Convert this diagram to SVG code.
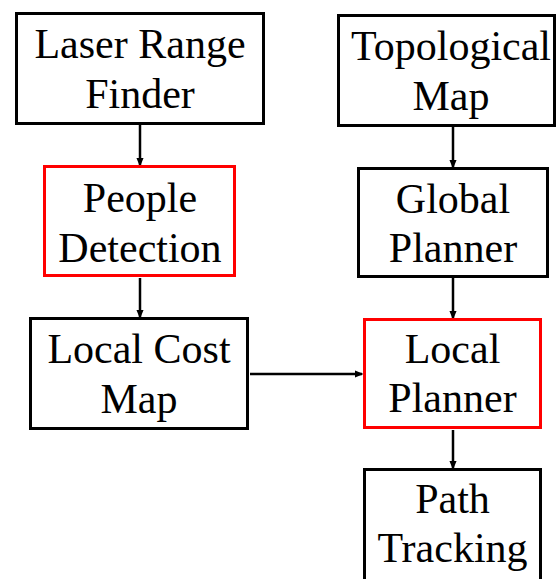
<svg xmlns="http://www.w3.org/2000/svg" width="557" height="579" viewBox="0 0 557 579">
<style>
.box{fill:#fff;stroke:#000;stroke-width:3}
.red{fill:#fff;stroke:#ff0000;stroke-width:3}
text{font-family:'Liberation Serif','DejaVu Serif',serif;font-size:42px;fill:#000;text-anchor:middle}
.conn{stroke:#000;stroke-width:2.5;fill:none}
</style>
<defs>
<marker id="ah" markerWidth="9" markerHeight="11" refX="9" refY="4.5" orient="auto" markerUnits="userSpaceOnUse" viewBox="0 0 11 9">
<path d="M0,0 L11,4.5 L0,9 Z" fill="#000"/>
</marker>
</defs>
<rect width="557" height="579" fill="#fff"/>
<g id="connectors">
<line class="conn" x1="140" y1="125" x2="140" y2="165" marker-end="url(#ah)"/>
<line class="conn" x1="140" y1="278" x2="140" y2="317" marker-end="url(#ah)"/>
<line class="conn" x1="453" y1="126" x2="453" y2="167" marker-end="url(#ah)"/>
<line class="conn" x1="453" y1="278" x2="453" y2="318" marker-end="url(#ah)"/>
<line class="conn" x1="250" y1="374" x2="362" y2="374" marker-end="url(#ah)"/>
<line class="conn" x1="453" y1="430" x2="453" y2="468" marker-end="url(#ah)"/>
</g>
<g id="laser">
<rect class="box" x="16.5" y="13.5" width="247" height="110"/>
<text x="140" y="58" font-family="Liberation Serif">Laser Range</text>
<text x="140" y="108" font-family="Liberation Serif">Finder</text>
</g>
<g id="people">
<rect class="red" x="44.5" y="166.5" width="190" height="109"/>
<text x="140" y="212" font-family="Liberation Serif">People</text>
<text x="140" y="262" font-family="Liberation Serif">Detection</text>
</g>
<g id="localcost">
<rect class="box" x="30.5" y="318.5" width="217" height="110"/>
<text x="139" y="363" font-family="Liberation Serif">Local Cost</text>
<text x="139" y="413" font-family="Liberation Serif">Map</text>
</g>
<g id="topo">
<rect class="box" x="338.5" y="15.5" width="216" height="110"/>
<text x="451" y="60" font-family="Liberation Serif">Topological</text>
<text x="451" y="110" font-family="Liberation Serif">Map</text>
</g>
<g id="global">
<rect class="box" x="358.5" y="168.5" width="189" height="108"/>
<text x="453" y="213" font-family="Liberation Serif">Global</text>
<text x="453" y="262" font-family="Liberation Serif">Planner</text>
</g>
<g id="localplanner">
<rect class="red" x="364.5" y="319.5" width="176" height="108"/>
<text x="452.5" y="363" font-family="Liberation Serif">Local</text>
<text x="452.5" y="412" font-family="Liberation Serif">Planner</text>
</g>
<g id="path">
<rect class="box" x="364.5" y="469.5" width="176" height="112"/>
<text x="452.5" y="513" font-family="Liberation Serif">Path</text>
<text x="452.5" y="562" font-family="Liberation Serif">Tracking</text>
</g>
</svg>
